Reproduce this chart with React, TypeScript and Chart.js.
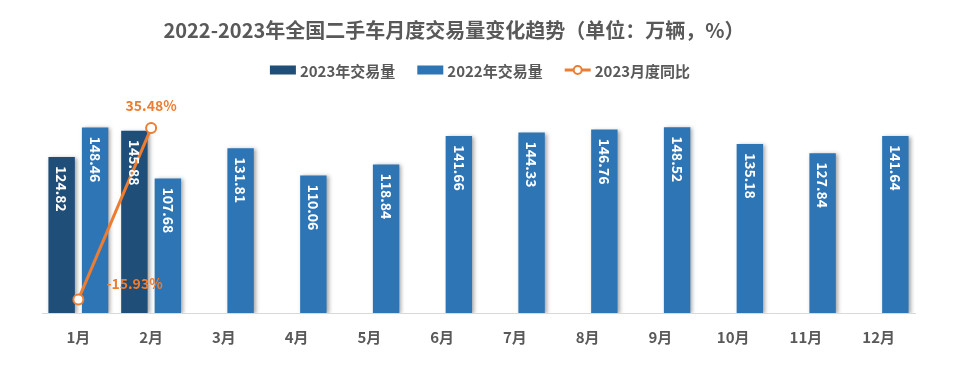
import React, { useEffect, useRef } from 'react';
import { Chart, registerables } from 'chart.js';
Chart.register(...registerables);

const titleText = '2022-2023年全国二手车月度交易量变化趋势（单位：万辆，%）';
const months = ['1月', '2月', '3月', '4月', '5月', '6月', '7月', '8月', '9月', '10月', '11月', '12月'];
const sales2023 = [124.82, 145.88, null, null, null, null, null, null, null, null, null, null];
const sales2022 = [148.46, 107.68, 131.81, 110.06, 118.84, 141.66, 144.33, 146.76, 148.52, 135.18, 127.84, 141.64];
const yoy2023 = [-15.93, 35.48, null, null, null, null, null, null, null, null, null, null];
const seriesNames = ['2023年交易量', '2022年交易量', '2023月度同比'];

const DARK = '#1F4E79';
const LIGHT = '#2E75B6';
const ORANGE = '#ED7D31';
const GREY = '#595959';
const FONT = '"Noto Sans CJK SC", "Noto Sans", sans-serif';

const shadowPlugin = {
  id: 'barShadow',
  beforeDatasetDraw(chart: any, args: any) {
    const ds = chart.data.datasets[args.index];
    if (ds.type === 'bar' || !ds.type) {
      const ctx = chart.ctx;
      ctx.save();
      ctx.shadowColor = 'rgba(0,0,0,0.35)';
      ctx.shadowBlur = 4;
      ctx.shadowOffsetX = 2;
      ctx.shadowOffsetY = 1;
    }
  },
  afterDatasetDraw(chart: any, args: any) {
    const ds = chart.data.datasets[args.index];
    if (ds.type === 'bar' || !ds.type) chart.ctx.restore();
  },
};

const labelPlugin = {
  id: 'customLabels',
  afterDatasetsDraw(chart: any) {
    const ctx = chart.ctx;
    [0, 1].forEach((di) => {
      const meta = chart.getDatasetMeta(di);
      const data = chart.data.datasets[di].data;
      meta.data.forEach((el: any, i: number) => {
        const v = data[i];
        if (v === null || v === undefined) return;
        ctx.save();
        ctx.translate(el.x, el.y);
        ctx.rotate(Math.PI / 2);
        ctx.font = `bold 14px ${FONT}`;
        ctx.fillStyle = '#FFFFFF';
        ctx.textAlign = 'left';
        ctx.textBaseline = 'middle';
        ctx.fillText(v.toFixed(2), 9, 0);
        ctx.restore();
      });
    });
    const lmeta = chart.getDatasetMeta(2);
    lmeta.data.forEach((el: any, i: number) => {
      const v = yoy2023[i];
      if (v === null || v === undefined) return;
      ctx.save();
      ctx.font = `bold 14px ${FONT}`;
      ctx.fillStyle = ORANGE;
      ctx.textBaseline = 'middle';
      const t = v.toFixed(2) + '%';
      if (v < 0) {
        ctx.textAlign = 'left';
        ctx.fillText(t, el.x + 28, el.y - 16);
      } else {
        ctx.textAlign = 'center';
        ctx.fillText(t, el.x, el.y - 22);
      }
      ctx.restore();
    });
  },
  afterDraw(chart: any) {
    const ctx = chart.ctx;
    ctx.save();
    ctx.font = `bold 20px ${FONT}`;
    ctx.fillStyle = GREY;
    ctx.textAlign = 'center';
    ctx.textBaseline = 'middle';
    ctx.fillText(titleText, 454, 30);
    ctx.font = `bold 15px ${FONT}`;
    const boxW = 26, boxH = 9, gap = 4, itemGap = 22;
    const widths = seriesNames.map((n) => boxW + gap + ctx.measureText(n).width);
    const total = widths.reduce((a, b) => a + b, 0) + itemGap * (widths.length - 1);
    let x = 480 - total / 2;
    const y = 70;
    const colors = [DARK, LIGHT, ORANGE];
    seriesNames.forEach((n, i) => {
      if (i < 2) {
        ctx.fillStyle = colors[i];
        ctx.fillRect(x, y - boxH / 2, boxW, boxH);
      } else {
        ctx.strokeStyle = ORANGE;
        ctx.lineWidth = 3;
        ctx.beginPath();
        ctx.moveTo(x, y);
        ctx.lineTo(x + boxW, y);
        ctx.stroke();
        ctx.beginPath();
        ctx.arc(x + boxW / 2, y, 4, 0, Math.PI * 2);
        ctx.fillStyle = '#FFFFFF';
        ctx.fill();
        ctx.lineWidth = 2;
        ctx.stroke();
      }
      ctx.fillStyle = GREY;
      ctx.textAlign = 'left';
      ctx.fillText(n, x + boxW + gap, y + 1);
      x += widths[i] + itemGap;
    });
    ctx.restore();
  },
};

export default function App() {
  const ref = useRef<HTMLCanvasElement>(null);
  useEffect(() => {
    document.body.style.margin = '0';
    const chart = new Chart(ref.current!, {
      type: 'bar',
      data: {
        labels: months,
        datasets: [
          {
            type: 'bar',
            label: seriesNames[0],
            data: sales2023 as any,
            backgroundColor: DARK,
            yAxisID: 'y',
            order: 2,
          },
          {
            type: 'bar',
            label: seriesNames[1],
            data: sales2022,
            backgroundColor: LIGHT,
            yAxisID: 'y',
            order: 2,
          },
          {
            type: 'line',
            label: seriesNames[2],
            data: yoy2023 as any,
            borderColor: ORANGE,
            backgroundColor: '#FFFFFF',
            borderWidth: 3,
            pointRadius: 5,
            pointBorderWidth: 2,
            pointBorderColor: ORANGE,
            pointBackgroundColor: '#FFFFFF',
            yAxisID: 'y1',
            order: 0,
            spanGaps: false,
          } as any,
        ],
      },
      options: {
        responsive: false,
        animation: false,
        layout: { padding: { left: 42, right: 44, top: 113, bottom: 21 } },
        datasets: {
          bar: { categoryPercentage: 0.92, barPercentage: 0.79 },
        } as any,
        plugins: {
          legend: { display: false },
          title: { display: false },
          tooltip: { enabled: false },
        },
        scales: {
          x: {
            grid: { display: false },
            border: { display: true, color: '#D9D9D9', width: 1 },
            ticks: {
              color: GREY,
              font: { family: FONT, size: 15, weight: 'bold' },
              padding: 7,
            },
            afterFit: (s: any) => {
              s.height = 40;
            },
          },
          y: { display: false, min: 0, max: 160 },
          y1: { display: false, min: -20, max: 40, position: 'right' },
        },
      },
      plugins: [shadowPlugin, labelPlugin],
    });
    return () => chart.destroy();
  }, []);
  return (
    <div style={{ width: 959, height: 374 }}>
      <canvas ref={ref} width={959} height={374} style={{ display: 'block' }} />
    </div>
  );
}
